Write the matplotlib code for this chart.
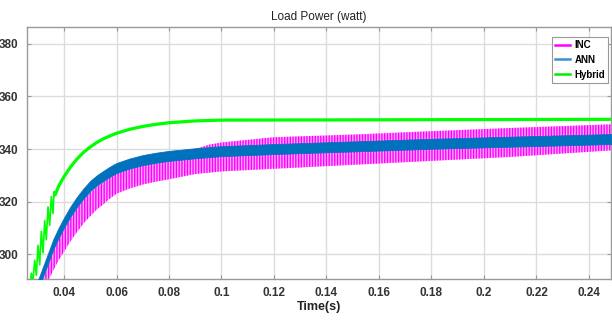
'''
Load power comparison: INC, ANN and Hybrid MPPT
'''

import matplotlib
matplotlib.use("Agg")
import matplotlib.pyplot as plt
from matplotlib.lines import Line2D

plt.rcParams['font.family'] = ['Liberation Sans Narrow', 'Liberation Sans', 'DejaVu Sans']

# ANN band (centre of the ripple band)
ann_t = [0.0290, 0.0300, 0.0315, 0.0330, 0.0345, 0.0360, 0.0380, 0.0400, 0.0425,
         0.0450, 0.0475, 0.0500, 0.0525, 0.0550, 0.0575, 0.0600, 0.0650, 0.0700,
         0.0750, 0.0800, 0.0900, 0.1000, 0.1200, 0.1500, 0.1800, 0.2100, 0.2485]
ann_mid = [285.0, 288.0, 292.0, 296.0, 300.0, 304.0, 308.2, 312.0, 316.3,
           320.0, 323.2, 326.0, 328.1, 329.8, 331.4, 332.8, 334.5, 335.8,
           336.7, 337.4, 338.4, 339.2, 340.0, 341.0, 342.0, 342.8, 343.8]
ann_half = 1.9

# INC ripple envelope
inc_t = [0.0310, 0.0330, 0.0345, 0.0360, 0.0380, 0.0400, 0.0425, 0.0450, 0.0475,
         0.0500, 0.0525, 0.0550, 0.0575, 0.0600, 0.0650, 0.0700, 0.0750, 0.0800,
         0.0900, 0.0950, 0.1000, 0.1200, 0.1500, 0.1800, 0.2100, 0.2485]
inc_low = [284.0, 288.0, 291.0, 294.0, 297.8, 301.0, 305.0, 308.5, 311.8,
           314.5, 317.0, 319.0, 321.2, 323.0, 325.0, 326.5, 327.6, 328.5,
           330.5, 331.0, 331.5, 332.5, 334.0, 335.5, 337.0, 339.5]
inc_high = [287.0, 293.0, 297.5, 301.5, 305.8, 309.5, 313.8, 317.5, 320.8,
            323.5, 325.7, 327.5, 329.2, 330.8, 332.6, 334.0, 334.9, 335.5,
            340.0, 341.6, 342.5, 344.5, 345.5, 346.8, 348.0, 349.4]

# Hybrid: early switching spikes (peaks / troughs)
spike_t = [0.0270, 0.02754, 0.0282, 0.02884, 0.02945, 0.0301, 0.03074, 0.03135,
           0.0320, 0.03264, 0.03326, 0.0339, 0.03455, 0.03516, 0.0358, 0.0362,
           0.0365]
spike_p = [288.0, 292.8, 290.0, 297.7, 292.0, 303.4, 296.0, 308.7,
           300.5, 312.8, 305.5, 318.0, 311.0, 321.9, 315.5, 323.8,
           322.3]
# Hybrid: smooth rise after the spikes
hyb_t = [0.0365, 0.0380, 0.0400, 0.0425, 0.0450, 0.0475, 0.0500, 0.0525, 0.0550,
         0.0575, 0.0600, 0.0650, 0.0700, 0.0750, 0.0800, 0.0900, 0.1000, 0.1500,
         0.2000, 0.2485]
hyb_p = [322.3, 326.0, 329.5, 333.2, 336.3, 338.8, 340.8, 342.5, 343.9,
         345.0, 346.0, 347.5, 348.6, 349.4, 350.0, 350.7, 351.0, 351.1,
         351.2, 351.3]

xticks = [0.04, 0.06, 0.08, 0.1, 0.12, 0.14, 0.16, 0.18, 0.2, 0.22, 0.24]
xlabels = ['0.04', '0.06', '0.08', '0.1', '0.12', '0.14', '0.16', '0.18', '0.2', '0.22', '0.24']
yticks = [300, 320, 340, 360, 380]

MAG = '#ff00ff'
BLUE = '#0072bd'
GREEN = '#00ff00'


def main():
    fig = plt.figure(figsize=(6.12, 3.24), dpi=100)
    ax = fig.add_axes([27 / 612, 1 - 279 / 324, 584 / 612, 252 / 324])

    # INC - spiky ripple
    ax.fill_between(inc_t, inc_low, inc_high, facecolor='#ffa8ff', edgecolor=MAG,
                    hatch='||||||', linewidth=0, zorder=2)
    # ANN - solid ripple band
    lo = [m - ann_half for m in ann_mid]
    hi = [m + ann_half for m in ann_mid]
    ax.fill_between(ann_t, lo, hi, color=BLUE, linewidth=0.6, zorder=3)
    # Hybrid
    ax.plot(spike_t, spike_p, color=GREEN, linewidth=1.2, zorder=4)
    ax.plot(hyb_t, hyb_p, color=GREEN, linewidth=2.3, zorder=4,
            solid_capstyle='butt')

    ax.set_xlim(0.0259, 0.2484)
    ax.set_ylim(290.6, 386.4)
    ax.set_xticks(xticks)
    ax.set_xticklabels(xlabels)
    ax.set_yticks(yticks)
    ax.grid(True, color='#dcdcdc', linewidth=1.0, zorder=0)
    ax.set_axisbelow(True)
    ax.tick_params(direction='in', length=3, color='#999999', top=True, right=True,
                   labelsize=8.5, pad=6)
    for lab in ax.get_xticklabels() + ax.get_yticklabels():
        lab.set_fontweight('bold')
        lab.set_color('#333333')
    for sp in ax.spines.values():
        sp.set_color('#999999')
        sp.set_linewidth(1.0)

    ax.set_title('Load Power (watt)', fontsize=8.5, color='#222222', pad=5)
    ax.set_xlabel('Time(s)', fontsize=9, fontweight='bold', color='#222222', labelpad=1)

    handles = [Line2D([], [], color=MAG, linewidth=1.8),
               Line2D([], [], color='#3d8fd0', linewidth=1.8),
               Line2D([], [], color='#00ee00', linewidth=1.8)]
    leg = ax.legend(handles, ['INC', 'ANN', 'Hybrid'], loc='upper right',
                    bbox_to_anchor=(0.999, 0.97), fancybox=False, framealpha=1,
                    edgecolor='#999999', handlelength=1.5, handletextpad=0.5,
                    borderpad=0.35, labelspacing=0.5, borderaxespad=0.2,
                    prop={'size': 7, 'weight': 'bold'})
    leg.get_frame().set_linewidth(0.8)

    fig.savefig('out.png', dpi=100)


main()
